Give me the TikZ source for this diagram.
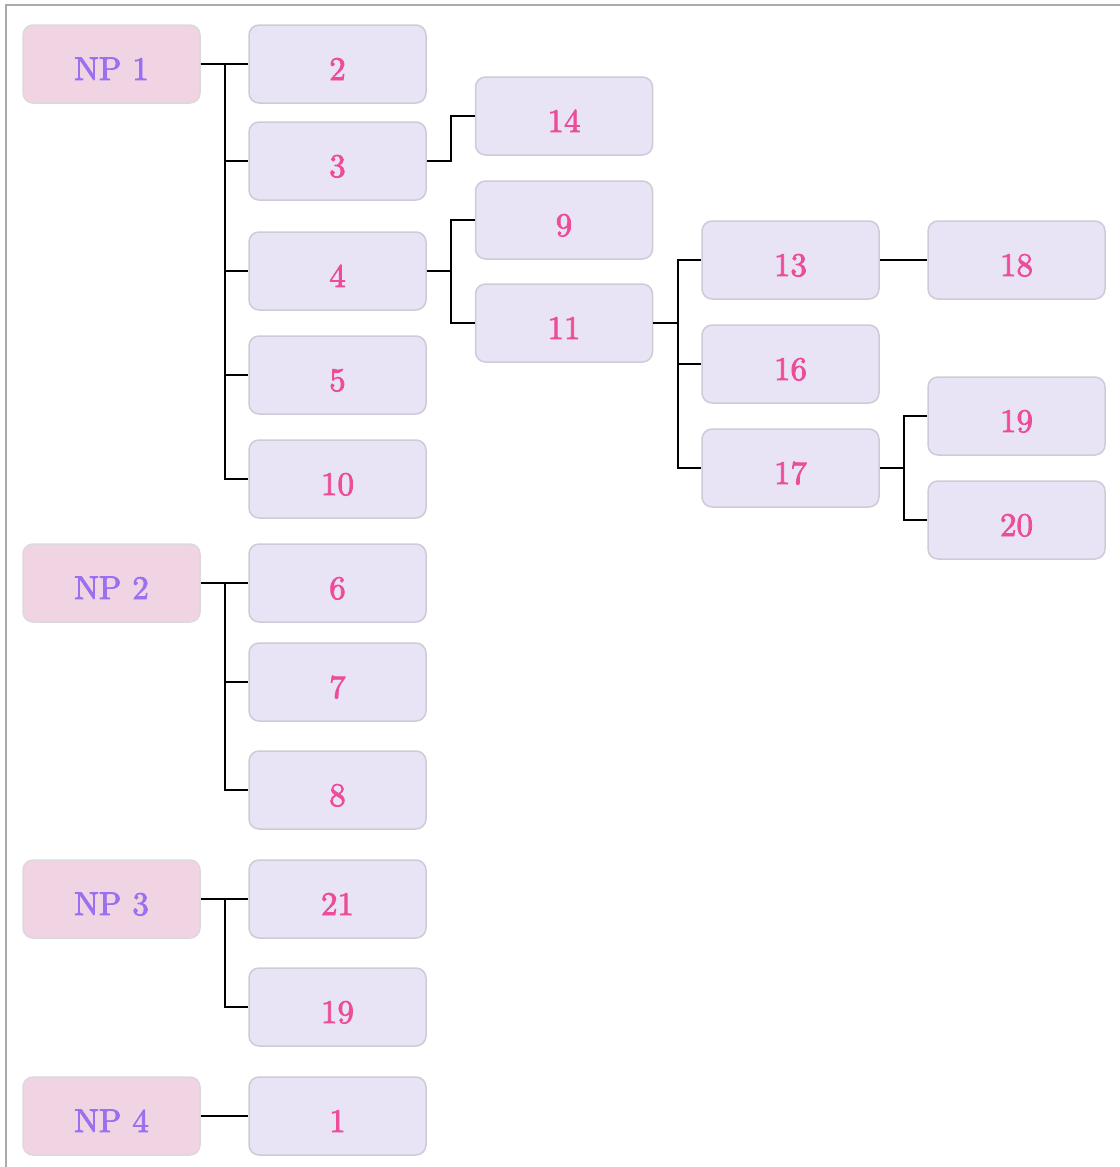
\documentclass[tikz,border=0pt]{standalone}
\usepackage{fontspec}
\newfontfamily\labelfont{lmroman10-regular.otf}[FakeBold=2.4]
\usepackage{tikz}
\definecolor{npfill}{HTML}{F0D4E3}
\definecolor{npdraw}{HTML}{DCD8DC}
\definecolor{nptext}{HTML}{9A70F0}
\definecolor{kidfill}{HTML}{E8E3F5}
\definecolor{kiddraw}{HTML}{CFCBD6}
\definecolor{kidtext}{HTML}{EC4C98}
\definecolor{framegray}{HTML}{AAAAAA}
\begin{document}
\begin{tikzpicture}[x=1pt,y=-1pt,
  box/.style={rounded corners=10pt, minimum width=177pt, minimum height=78pt, line width=1.5pt, inner sep=0pt, font=\labelfont\fontsize{33}{38}\selectfont, text height=32pt, text depth=0pt, anchor=center},
  np/.style={box, fill=npfill, draw=npdraw, text=nptext},
  kid/.style={box, fill=kidfill, draw=kiddraw, text=kidtext},
  link/.style={line width=1.8pt, black}]
\useasboundingbox (0,0) rectangle (1119,1167);
\draw[framegray, line width=2pt] (6,5) rectangle (1130,1180);
% column x centers: 111.5, 337.5, 564, 790.5, 1016.5
\node[np]  (np1) at (111.5,64) {NP 1};
\node[kid] (n2)  at (337.5,64) {2};
\node[kid] (n3)  at (337.5,161) {3};
\node[kid] (n14) at (564,116) {14};
\node[kid] (n4)  at (337.5,271) {4};
\node[kid] (n9)  at (564,220) {9};
\node[kid] (n11) at (564,323) {11};
\node[kid] (n13) at (790.5,260) {13};
\node[kid] (n18) at (1016.5,260) {18};
\node[kid] (n5)  at (337.5,375) {5};
\node[kid] (n16) at (790.5,364) {16};
\node[kid] (n10) at (337.5,479) {10};
\node[kid] (n19a) at (1016.5,416) {19};
\node[kid] (n17) at (790.5,468) {17};
\node[kid] (n20) at (1016.5,520) {20};
\node[np]  (np2) at (111.5,583) {NP 2};
\node[kid] (n6)  at (337.5,583) {6};
\node[kid] (n7)  at (337.5,682) {7};
\node[kid] (n8)  at (337.5,790) {8};
\node[np]  (np3) at (111.5,899) {NP 3};
\node[kid] (n21) at (337.5,899) {21};
\node[kid] (n19b) at (337.5,1007) {19};
\node[np]  (np4) at (111.5,1116) {NP 4};
\node[kid] (n1)  at (337.5,1116) {1};
% connectors
\foreach \p/\c in {np1/n2, np1/n3, np1/n4, np1/n5, np1/n10,
                   n3/n14, n4/n9, n4/n11,
                   n11/n13, n11/n16, n11/n17,
                   n13/n18, n17/n19a, n17/n20,
                   np2/n6, np2/n7, np2/n8,
                   np3/n21, np3/n19b, np4/n1}
  \draw[link] (\p.east) -- ++(24.5,0) |- (\c.west);
\end{tikzpicture}
\end{document}
